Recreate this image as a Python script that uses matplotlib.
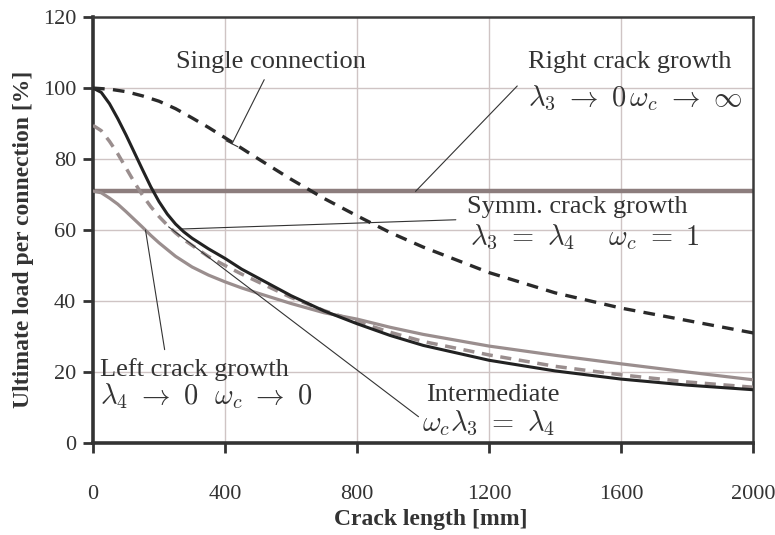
import matplotlib
matplotlib.use("Agg")
import matplotlib.pyplot as plt

plt.rcParams['mathtext.fontset'] = 'cm'
plt.rcParams['font.family'] = ['Liberation Serif', 'DejaVu Serif']

# Right crack growth / single connection (black dashed)
single_x = [0, 50, 100, 150, 200, 250, 300, 350, 400, 500, 600, 700, 800, 900, 1000, 1200, 1400, 1600, 1800, 2000]
single_conn = [100, 99.7, 99.0, 97.8, 96.3, 94.2, 91.6, 88.9, 86.0, 80.1, 74.3, 68.9, 64.0, 59.3, 55.2, 48.0, 42.3, 38.0, 34.5, 31.0]

# Symmetric crack growth (black solid)
symm_x = [0, 25, 50, 75, 100, 125, 150, 175, 200, 225, 250, 275, 300, 350, 400, 450, 500, 600, 700, 800, 900, 1000, 1200, 1400, 1600, 1800, 2000]
symm = [100, 98.8, 95.6, 91.4, 86.8, 81.9, 77.0, 72.2, 68.0, 64.5, 61.7, 59.5, 57.7, 54.7, 52.0, 49.0, 46.5, 41.5, 37.2, 33.6, 30.3, 27.5, 23.3, 20.3, 18.0, 16.3, 15.0]

# Intermediate (grey dashed)
inter_x = [0, 25, 50, 75, 100, 125, 150, 175, 200, 225, 250, 275, 300, 350, 400, 450, 500, 600, 700, 800, 900, 1000, 1200, 1400, 1600, 1800, 2000]
intermediate = [89.5, 88.0, 85.0, 81.5, 77.5, 73.5, 69.8, 66.6, 63.8, 61.4, 59.2, 57.3, 55.7, 52.5, 50.0, 47.6, 45.4, 41.0, 37.3, 34.2, 31.2, 28.6, 24.8, 21.6, 19.2, 17.2, 15.7]

# Left crack growth (grey solid)
left_x = [0, 25, 50, 75, 100, 125, 150, 175, 200, 250, 300, 350, 400, 450, 500, 600, 700, 800, 900, 1000, 1200, 1400, 1600, 1800, 2000]
left_growth = [71, 70.5, 69.0, 67.3, 65.2, 63.0, 60.8, 58.5, 56.4, 52.6, 49.6, 47.3, 45.4, 43.7, 42.2, 39.3, 36.7, 34.9, 32.6, 30.6, 27.3, 24.7, 22.3, 20.0, 17.8]

# Constant level (grey horizontal line)
const_x = [0, 2000]
const_level = [71.0, 71.0]

xticks = [0, 400, 800, 1200, 1600, 2000]
yticks = [0, 20, 40, 60, 80, 100, 120]

fig = plt.figure(figsize=(7.75, 5.35), dpi=100)
ax = fig.add_axes([0.12, 0.172, 0.852, 0.796])

grid_c = '#cfc4c4'
for xv in xticks[1:-1]:
    ax.axvline(xv, color=grid_c, lw=1.0, zorder=0)
for yv in yticks[1:-1]:
    ax.axhline(yv, color=grid_c, lw=1.0, zorder=0)

ax.plot(const_x, const_level, color='#8c7d7d', lw=3.2, zorder=2)
ax.plot(left_x, left_growth, color='#9a8e8e', lw=2.3, zorder=3)
ax.plot(inter_x, intermediate, color='#9a8e8e', lw=2.5, ls=(0, (3.2, 2.2)), zorder=3)
ax.plot(symm_x, symm, color='#222222', lw=2.2, zorder=4)
ax.plot(single_x, single_conn, color='#2a2a2a', lw=2.4, ls=(0, (3.5, 2.5)), zorder=4)

ax.set_xlim(0, 2000)
ax.set_ylim(0, 120)
ax.set_xticks(xticks)
ax.set_yticks(yticks)
ax.tick_params(axis='x', direction='out', length=7, width=2, pad=23, labelsize=16, colors='#333333')
ax.tick_params(axis='y', direction='out', length=7, width=2, pad=5, labelsize=16, colors='#333333')
for s in ['left', 'bottom']:
    ax.spines[s].set_linewidth(2.6)
    ax.spines[s].set_color('#333333')
for s in ['top', 'right']:
    ax.spines[s].set_linewidth(1.8)
    ax.spines[s].set_color('#3a3a3a')

ax.set_xlabel('Crack length [mm]', fontsize=17, fontweight='bold', color='#333333')
ax.set_ylabel('Ultimate load per connection [%]', fontsize=17, fontweight='bold', color='#333333')
ax.xaxis.set_label_coords(0.512, -0.155)
ax.yaxis.set_label_coords(-0.09, 0.477)

tc = '#333333'
ap = dict(arrowstyle='-', lw=0.8, color='#333333', shrinkA=0, shrinkB=0)
fs_t = 19
fs_m = 20.5

ax.annotate('Single connection', xy=(421, 84.3), xytext=(540, 107.3), fontsize=fs_t, color=tc,
            ha='center', va='center',
            arrowprops=dict(arrowstyle='|-|, widthA=0, widthB=0.25', lw=0.8, color='#333333',
                            shrinkA=3, shrinkB=0, relpos=(0.48, 0.0)))
ax.text(1627, 107.3, 'Right crack growth', fontsize=fs_t, color=tc, ha='center', va='center')
ax.text(1318, 97.2, r'$\lambda_3\ \rightarrow\ 0\,\omega_c\ \rightarrow\ \infty$', fontsize=fs_m, color=tc,
        ha='left', va='center')
ax.annotate('', xy=(977, 70.9), xytext=(1285, 100.6), arrowprops=ap)

ax.text(1466, 66.5, 'Symm. crack growth', fontsize=fs_t, color=tc, ha='center', va='center')
ax.text(1490, 58, r'$\lambda_3\ =\ \lambda_4\quad\ \omega_c\ =\ 1$', fontsize=fs_m, color=tc, ha='center', va='center')
ax.annotate('', xy=(269, 60.3), xytext=(1099, 62.9), arrowprops=ap)

ax.text(21, 20.6, 'Left crack growth', fontsize=fs_t, color=tc, ha='left', va='center')
ax.text(21, 13.2, r'$\lambda_4\ \rightarrow\ 0\ \ \omega_c\ \rightarrow\ 0$', fontsize=fs_m, color=tc, ha='left', va='center')
ax.annotate('', xy=(159, 60), xytext=(217, 26.3), arrowprops=ap)

ax.text(1212, 13.5, 'Intermediate', fontsize=fs_t, color=tc, ha='center', va='center')
ax.text(1197, 5.4, r'$\omega_c\lambda_3\ =\ \lambda_4$', fontsize=fs_m, color=tc, ha='center', va='center')
ax.annotate('', xy=(229, 60.9), xytext=(986, 7.4), arrowprops=ap)

fig.savefig('out.png', dpi=100)
